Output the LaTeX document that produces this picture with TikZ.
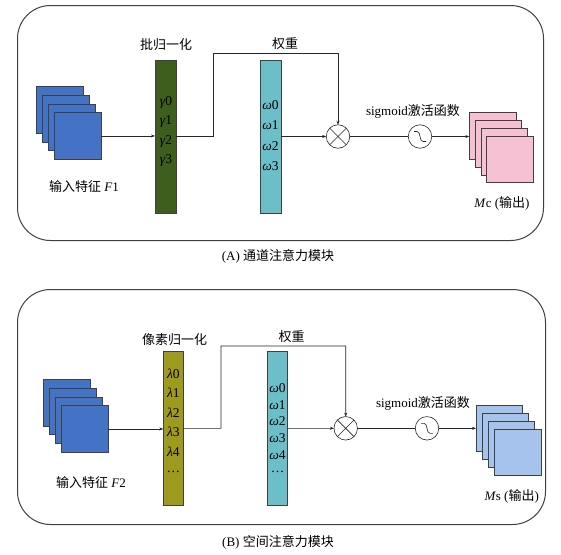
\documentclass[tikz,border=0pt]{standalone}
\usepackage{fontspec}
\setmainfont{Liberation Serif}
\newfontfamily\cjk{Noto Sans CJK SC}
\usetikzlibrary{arrows.meta}
\definecolor{inblue}{HTML}{4472C4}
\definecolor{bngreen}{HTML}{3D5E1C}
\definecolor{wteal}{HTML}{6CBFC9}
\definecolor{lolive}{HTML}{9E9A1E}
\definecolor{outpink}{HTML}{F7C1D4}
\definecolor{outblue}{HTML}{A6C3EE}
\tikzset{
  frame/.style={draw=black!75, line width=1pt, rounded corners=33pt},
  sq/.style={draw=black!75, line width=0.6pt, minimum width=46.5pt, minimum height=46.5pt, inner sep=0pt, outer sep=0pt, anchor=north west},
  bar/.style={draw=black!75, line width=0.6pt, inner sep=0pt, outer sep=0pt, anchor=north west},
  conn/.style={draw=black!85, line width=0.6pt},
  arr/.style={conn, -{Stealth[length=4pt,width=3pt]}},
  op/.style={circle, draw=black!85, line width=0.6pt, minimum size=23.5pt, inner sep=0pt, outer sep=0pt},
  lbl/.style={inner sep=0pt, font=\fontsize{13}{15}\selectfont},
  gk/.style={inner sep=0pt, font=\fontsize{13.5}{15}\selectfont}
}
\begin{document}
\begin{tikzpicture}[x=1pt,y=-1pt]
\useasboundingbox (0,0) rectangle (561,554);
\fill[white] (0,0) rectangle (561,554);

% ---------------- Panel A ----------------
\node[frame, minimum width=526pt, minimum height=235pt, anchor=north west, inner sep=0pt] (frA) at (17,5) {};
\node[lbl] (capA) at (278,256) {(A) {\cjk 通道注意力模块}};

\node[sq, fill=inblue] (inA1) at (36.7,86.7) {};
\node[sq, fill=inblue] (inA2) at (42.6,95.3) {};
\node[sq, fill=inblue] (inA3) at (48.5,104) {};
\node[sq, fill=inblue] (inA4) at (54.3,112.7) {};
\node[lbl] (inAl) at (84,187) {{\cjk 输入特征} \textit{F}1};

\node[bar, fill=bngreen, minimum width=21pt, minimum height=153pt] (bnA) at (155,60) {};
\node[lbl] (bnAl) at (166,45) {\cjk 批归一化};
\node[gk] (gA0) at (166,102) {\textit{γ}0};
\node[gk] (gA1) at (166,121.5) {\textit{γ}1};
\node[gk] (gA2) at (166,141) {\textit{γ}2};
\node[gk] (gA3) at (166,160.5) {\textit{γ}3};

\node[bar, fill=wteal, minimum width=21pt, minimum height=153pt] (wA) at (260,60) {};
\node[gk] (wA0) at (270.5,105) {\textit{ω}0};
\node[gk] (wA1) at (270.5,125.5) {\textit{ω}1};
\node[gk] (wA2) at (270.5,146) {\textit{ω}2};
\node[gk] (wA3) at (270.5,166.5) {\textit{ω}3};

\node[op] (mulA) at (338,136.5) {};
\draw[conn] (mulA.north west) -- (mulA.south east) (mulA.north east) -- (mulA.south west);
\node[op] (sgA) at (420,136.5) {};
\draw[conn] ([shift={(-6,-5)}]sgA.center) -- ([shift={(-3,-5)}]sgA.center) .. controls ([shift={(1,-5)}]sgA.center) and ([shift={(-1,5)}]sgA.center) .. ([shift={(3,5)}]sgA.center) -- ([shift={(6,5)}]sgA.center);
\node[lbl] (sgAl) at (413,111) {sigmoid{\cjk 激活函数}};

\node[sq, fill=outpink] (outA1) at (469.3,112.7) {};
\node[sq, fill=outpink] (outA2) at (475.1,120.5) {};
\node[sq, fill=outpink] (outA3) at (480.9,128.3) {};
\node[sq, fill=outpink] (outA4) at (486.7,136) {};
\node[lbl] (outAl) at (502,203) {\textit{M}c ({\cjk 输出})};

\node[lbl] (wAl) at (285,44) {\cjk 权重};
\coordinate (eA1) at (213.3,136.5);
\coordinate (eA2) at (213.3,53.3);
\draw[arr] (inA4.east) -- (inA4.east -| bnA.west);
\draw[arr] (bnA.east) -- (eA1) -- (eA2) -- (eA2 -| mulA.north) -- (mulA.north);
\draw[arr] (wA.east) -- (mulA.west);
\draw[conn] (mulA.east) -- (sgA.west);
\draw[arr] (sgA.east) -- (sgA.east -| outA1.west);

% ---------------- Panel B ----------------
\node[frame, minimum width=528pt, minimum height=235pt, anchor=north west, inner sep=0pt] (frB) at (17,289) {};
\node[lbl] (capB) at (278,542) {(B) {\cjk 空间注意力模块}};

\node[sq, fill=inblue] (inB1) at (43.3,379.3) {};
\node[sq, fill=inblue] (inB2) at (49.4,388.1) {};
\node[sq, fill=inblue] (inB3) at (55.5,396.9) {};
\node[sq, fill=inblue] (inB4) at (61.7,405.7) {};
\node[lbl] (inBl) at (91,483) {{\cjk 输入特征} \textit{F}2};

\node[bar, fill=lolive, minimum width=20pt, minimum height=153.3pt] (bnB) at (163.3,351.7) {};
\node[lbl] (bnBl) at (174.5,340) {\cjk 像素归一化};
\node[gk] (lB0) at (173.3,373.5) {\textit{λ}0};
\node[gk] (lB1) at (173.3,393) {\textit{λ}1};
\node[gk] (lB2) at (173.3,412.5) {\textit{λ}2};
\node[gk] (lB3) at (173.3,432) {\textit{λ}3};
\node[gk] (lB4) at (173.3,451.5) {\textit{λ}4};
\node[gk] (lB5) at (173.3,472) {…};

\node[bar, fill=wteal, minimum width=20.4pt, minimum height=153.3pt] (wB) at (267.3,351.7) {};
\node[gk] (wB0) at (277.5,388.5) {\textit{ω}0};
\node[gk] (wB1) at (277.5,405) {\textit{ω}1};
\node[gk] (wB2) at (277.5,421.5) {\textit{ω}2};
\node[gk] (wB3) at (277.5,438) {\textit{ω}3};
\node[gk] (wB4) at (277.5,455) {\textit{ω}4};
\node[gk] (wB5) at (277.5,472) {…};

\node[op] (mulB) at (345.7,428.3) {};
\draw[conn] (mulB.north west) -- (mulB.south east) (mulB.north east) -- (mulB.south west);
\node[op] (sgB) at (427,428.3) {};
\draw[conn] ([shift={(-6,-5)}]sgB.center) -- ([shift={(-3,-5)}]sgB.center) .. controls ([shift={(1,-5)}]sgB.center) and ([shift={(-1,5)}]sgB.center) .. ([shift={(3,5)}]sgB.center) -- ([shift={(6,5)}]sgB.center);
\node[lbl] (sgBl) at (423,403) {sigmoid{\cjk 激活函数}};

\node[sq, fill=outblue] (outB1) at (476,405) {};
\node[sq, fill=outblue] (outB2) at (482.1,413) {};
\node[sq, fill=outblue] (outB3) at (488.2,421) {};
\node[sq, fill=outblue] (outB4) at (494.3,429) {};
\node[lbl] (outBl) at (511.7,496) {\textit{M}s ({\cjk 输出})};

\node[lbl] (wBl) at (291.7,336.7) {\cjk 权重};
\coordinate (eB1) at (221,428.3);
\coordinate (eB2) at (221,346);
\draw[arr] (inB4.east) -- (inB4.east -| bnB.west);
\draw[arr] (bnB.east) -- (eB1) -- (eB2) -- (eB2 -| mulB.north) -- (mulB.north);
\draw[arr] (wB.east) -- (mulB.west);
\draw[conn] (mulB.east) -- (sgB.west);
\draw[arr] (sgB.east) -- (sgB.east -| outB1.west);
\end{tikzpicture}
\end{document}
